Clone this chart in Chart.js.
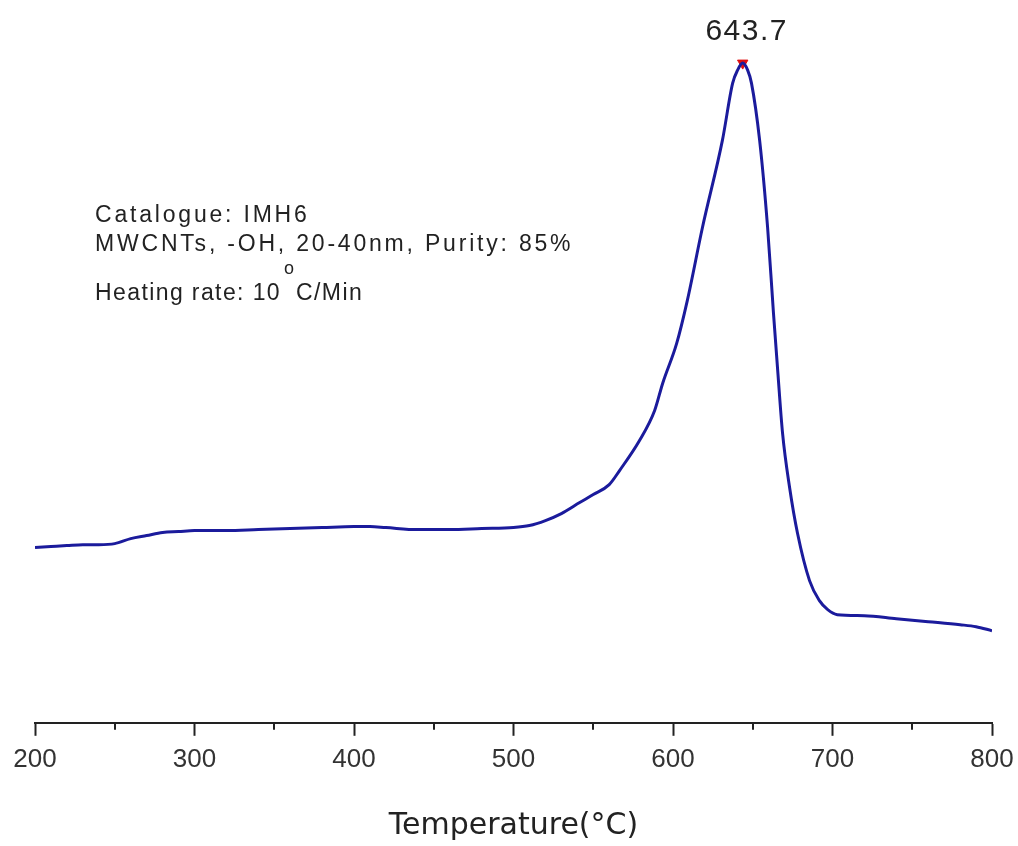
<!DOCTYPE html>
<html>
<head>
<meta charset="utf-8">
<script src="https://cdn.jsdelivr.net/npm/chart.js@4.4.0/dist/chart.umd.min.js"></script>
<style>
  html, body { margin: 0; padding: 0; background: #fff; }
  #wrap { width: 1018px; height: 846px; }
</style>
</head>
<body>
<div id="wrap"><canvas id="dta"></canvas></div>
<script>
// DTA curve (signal in arbitrary units, no y axis shown)
const temps = [200, 210, 220, 230, 240, 250, 260, 270, 280, 290, 300, 320, 340, 360, 380, 400, 410, 420, 440, 460, 480, 500, 510, 520, 530, 541.5, 550, 560, 566.5, 579, 588.5, 593.5, 602.3, 609, 618.5, 631, 637.4, 640.5, 643.7, 646.8, 649.2, 654.3, 659.3, 663, 665.5, 668.7, 673.1, 678.1, 685.6, 691.8, 697, 703, 720, 740, 760, 780, 790, 800];
const signal = [24.24, 24.38, 24.52, 24.65, 24.65, 24.79, 25.48, 25.9, 26.32, 26.45, 26.59, 26.59, 26.73, 26.87, 27.01, 27.15, 27.15, 27.01, 26.73, 26.73, 26.87, 27.01, 27.29, 27.98, 28.95, 30.47, 31.58, 32.96, 34.9, 39.06, 43.21, 46.95, 52.49, 58.45, 68.56, 80.61, 88.5, 90.3, 91.27, 90.3, 88.5, 80.61, 68.56, 56.65, 49.17, 40.03, 32.55, 26.18, 19.67, 16.9, 15.65, 14.96, 14.82, 14.4, 13.99, 13.57, 13.3, 12.74];
const peakTemp = [643.7];
const peakSignal = [91.27];
const peakLabel = '643.7';
const minorTicks = [250, 350, 450, 550, 650, 750];
const infoLines = ['Catalogue: IMH6', 'MWCNTs, -OH, 20-40nm, Purity: 85%'];
const rateText = ['Heating rate: 10', 'o', 'C/Min'];

const curve = temps.map((t, i) => ({ x: t, y: signal[i] }));
const peak = peakTemp.map((t, i) => ({ x: t, y: peakSignal[i] }));

const textFont = '"Liberation Sans", Arial, sans-serif';

// minor ticks, peak value and the info text
const extras = {
  id: 'extras',
  afterDraw(chart) {
    const ctx = chart.ctx;
    const xs = chart.scales.x, ys = chart.scales.y;
    const bottom = chart.chartArea.bottom;
    ctx.save();
    ctx.strokeStyle = '#222';
    ctx.lineWidth = 2;
    minorTicks.forEach(v => {
      const px = Math.round(xs.getPixelForValue(v));
      ctx.beginPath();
      ctx.moveTo(px, bottom);
      ctx.lineTo(px, bottom + 7);
      ctx.stroke();
    });

    ctx.fillStyle = '#222';
    ctx.textAlign = 'center';
    ctx.textBaseline = 'alphabetic';
    ctx.font = '30px ' + textFont;
    ctx.letterSpacing = '1.5px';
    ctx.fillText(peakLabel, xs.getPixelForValue(peakTemp[0]) + 4, ys.getPixelForValue(peakSignal[0]) - 23);

    ctx.textAlign = 'left';
    ctx.font = '23px ' + textFont;
    ctx.letterSpacing = '2.8px';
    ctx.fillText(infoLines[0], 95, 222);
    ctx.fillText(infoLines[1], 95, 251);
    ctx.letterSpacing = '1.4px';
    ctx.fillText(rateText[0], 95, 300);
    const w = ctx.measureText(rateText[0]).width;
    ctx.font = '18px ' + textFont;
    ctx.fillText(rateText[1], 95 + w + 3, 274);
    ctx.font = '23px ' + textFont;
    ctx.fillText(rateText[2], 95 + w + 15, 300);
    ctx.restore();
  }
};

new Chart(document.getElementById('dta'), {
  type: 'line',
  data: {
    datasets: [
      {
        data: curve,
        borderColor: '#1b1b9c',
        borderWidth: 3,
        pointRadius: 0,
        cubicInterpolationMode: 'monotone',
        fill: false
      },
      {
        data: peak,
        showLine: false,
        pointStyle: 'triangle',
        rotation: 180,
        pointRadius: 6,
        pointBackgroundColor: '#e01010',
        pointBorderColor: '#e01010'
      }
    ]
  },
  options: {
    responsive: true,
    maintainAspectRatio: false,
    animation: false,
    layout: { autoPadding: false, padding: { left: 35, right: 26, top: 0, bottom: 0 } },
    plugins: {
      legend: { display: false },
      tooltip: { enabled: false }
    },
    scales: {
      x: {
        type: 'linear',
        min: 200,
        max: 800,
        afterFit(scale) {
          scale.paddingRight = 0; // let layout padding alone set the right edge
        },
        border: { display: true, color: '#222', width: 2 },
        grid: {
          display: true,
          drawOnChartArea: false,
          drawTicks: true,
          tickLength: 13,
          tickColor: '#222',
          tickWidth: 2
        },
        ticks: {
          stepSize: 100,
          padding: 8,
          color: '#333',
          maxRotation: 0,
          font: { family: textFont, size: 26 }
        },
        title: {
          display: true,
          text: 'Temperature(°C)',
          color: '#222',
          padding: { top: 25, bottom: 2 },
          font: { family: '"DejaVu Sans", sans-serif', size: 30 }
        }
      },
      y: {
        display: false,
        min: 0,
        max: 100
      }
    }
  },
  plugins: [extras]
});
</script>
</body>
</html>
